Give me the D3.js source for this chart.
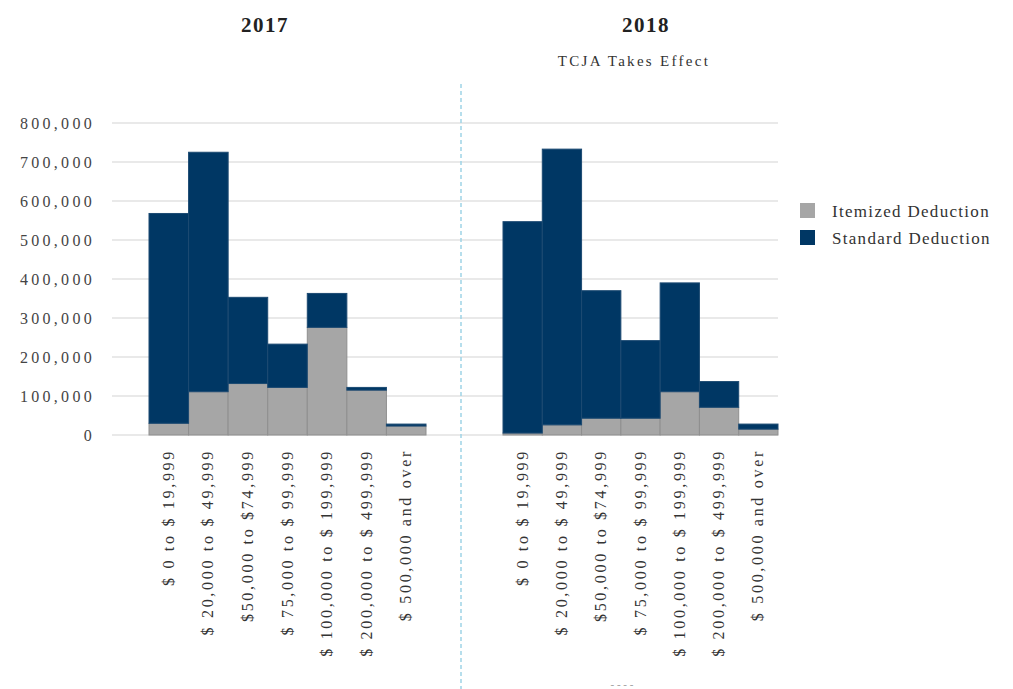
<!DOCTYPE html>
<html>
<head>
<meta charset="utf-8">
<script src="https://cdn.jsdelivr.net/npm/d3@7"></script>
<style>
  body { margin: 0; background: #fff; }
  svg { display: block; font-family: "Liberation Serif", "DejaVu Serif", serif; }
</style>
</head>
<body>
<div id="chart"></div>
<script>
// income brackets (same for both years)
const brackets = [
  '$ 0 to $ 19,999', '$ 20,000 to $ 49,999', '$50,000 to $74,999', '$ 75,000 to $ 99,999',
  '$ 100,000 to $ 199,999', '$ 200,000 to $ 499,999', '$ 500,000 and over'
];
const years = ['2017', '2018'];
const subtitles = ['', 'TCJA Takes Effect'];
const seriesNames = ['Itemized Deduction', 'Standard Deduction'];

const itemized2017 = [30000, 111000, 132000, 122000, 276000, 115000, 23000];
const standard2017 = [538000, 614000, 221000, 111000, 87000, 7000, 5000];
const itemized2018 = [5000, 26000, 43000, 43000, 111000, 71000, 15000];
const standard2018 = [542000, 707000, 327000, 199000, 279000, 66000, 13000];

const yTicks = [0, 100000, 200000, 300000, 400000, 500000, 600000, 700000, 800000];

const width = 1013;
const height = 689;
const colors = { 'Itemized Deduction': '#a6a6a6', 'Standard Deduction': '#003764' };

const svg = d3.select('#chart')
  .append('svg')
  .attr('width', width)
  .attr('height', height);

const y = d3.scaleLinear()
  .domain([0, 800000])
  .range([435, 123]);

// gridlines
svg.append('g')
  .selectAll('line')
  .data(yTicks)
  .join('line')
  .attr('x1', 112)
  .attr('x2', 778)
  .attr('y1', d => y(d))
  .attr('y2', d => y(d))
  .attr('stroke', '#e2e2e2')
  .attr('stroke-width', 1.5);

const yAxis = svg.append('g')
  .attr('transform', 'translate(95,0)')
  .call(d3.axisLeft(y).tickValues(yTicks).tickFormat(d3.format(',')).tickSize(0).tickPadding(0));
yAxis.select('.domain').remove();
yAxis.selectAll('text')
  .attr('font-size', 16)
  .attr('letter-spacing', 3.3)
  .attr('fill', '#444')
  .attr('font-family', '"Liberation Serif", serif');

// one panel per year
const panels = [
  { range: [149, 426], center: 265, itemized: itemized2017, standard: standard2017 },
  { range: [503, 778], center: 646, itemized: itemized2018, standard: standard2018 }
];

panels.forEach((p, pi) => {
  const x = d3.scaleBand()
    .domain(brackets)
    .range(p.range)
    .padding(0);

  const rows = brackets.map((b, i) => ({
    bracket: b,
    'Itemized Deduction': p.itemized[i],
    'Standard Deduction': p.standard[i]
  }));
  const stacked = d3.stack().keys(seriesNames)(rows);

  const g = svg.append('g');
  g.selectAll('g')
    .data(stacked)
    .join('g')
    .attr('fill', d => colors[d.key])
    .attr('stroke', d => d.key === 'Itemized Deduction' ? '#8f8f8f' : '#1c4a72')
    .attr('stroke-width', 1)
    .selectAll('rect')
    .data(d => d)
    .join('rect')
    .attr('x', d => x(d.data.bracket))
    .attr('width', x.bandwidth())
    .attr('y', d => y(d[1]))
    .attr('height', d => y(d[0]) - y(d[1]));

  // rotated category labels
  g.append('g')
    .selectAll('text')
    .data(brackets)
    .join('text')
    .attr('transform', d => `translate(${x(d) + x.bandwidth() / 2 + 5},449) rotate(-90)`)
    .attr('text-anchor', 'end')
    .attr('font-size', 16)
    .attr('letter-spacing', 2.7)
    .attr('fill', '#333')
    .text(d => d);

  svg.append('text')
    .attr('x', p.center)
    .attr('y', 32)
    .attr('text-anchor', 'middle')
    .attr('font-size', 21)
    .attr('font-weight', 'bold')
    .attr('letter-spacing', 1.5)
    .attr('fill', '#222')
    .text(years[pi]);
  if (subtitles[pi]) {
    svg.append('text')
      .attr('x', p.center - 12)
      .attr('y', 66)
      .attr('text-anchor', 'middle')
      .attr('font-size', 15)
      .attr('letter-spacing', 2.3)
      .attr('fill', '#333')
      .text(subtitles[pi]);
  }
});

// dashed divider between the years
svg.append('line')
  .attr('x1', 461).attr('x2', 461)
  .attr('y1', 84).attr('y2', height)
  .attr('stroke', '#9fd3e6')
  .attr('stroke-width', 1.5)
  .attr('stroke-dasharray', '4,3');

// cut-off axis title remnant
svg.append('text')
  .attr('x', 622)
  .attr('y', 688)
  .attr('text-anchor', 'middle')
  .attr('font-size', 11)
  .attr('fill', '#999')
  .text('- - - -');

// legend
const legend = svg.append('g')
  .attr('transform', 'translate(800,203)');
legend.selectAll('rect')
  .data(seriesNames)
  .join('rect')
  .attr('x', 0)
  .attr('y', (d, i) => i * 27)
  .attr('width', 15)
  .attr('height', 15)
  .attr('fill', d => colors[d]);
legend.selectAll('text')
  .data(seriesNames)
  .join('text')
  .attr('x', 32)
  .attr('y', (d, i) => i * 27 + 14)
  .attr('font-size', 17)
  .attr('letter-spacing', 1.3)
  .attr('fill', '#333')
  .text(d => d);
</script>
</body>
</html>
